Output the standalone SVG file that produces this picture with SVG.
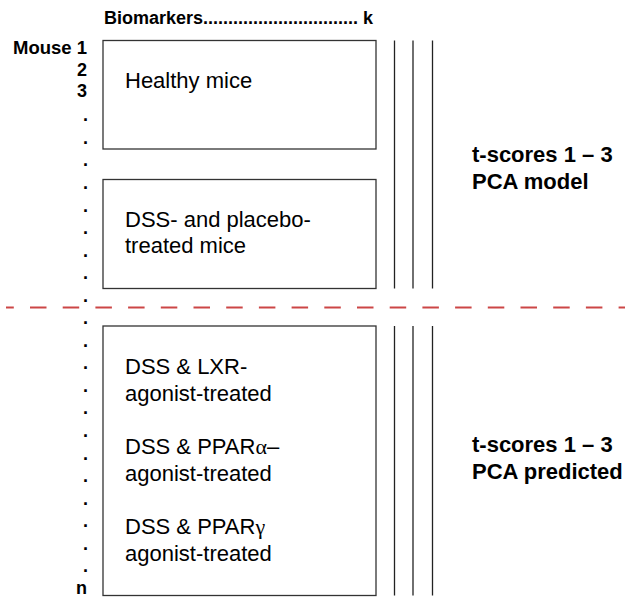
<svg xmlns="http://www.w3.org/2000/svg" width="625" height="598" viewBox="0 0 625 598">
<style>
.bx{fill:#fff;stroke:#333;stroke-width:1.3}
.vl{stroke:#222;stroke-width:1.3}
.lab{font-family:"Liberation Sans",Arial,sans-serif;font-weight:bold;font-size:18px;fill:#000}
.txt{font-family:"Liberation Sans",Arial,sans-serif;font-size:22px;fill:#000}
.big{font-family:"Liberation Sans",Arial,sans-serif;font-weight:bold;font-size:22px;fill:#000}
.gr{font-family:"Liberation Serif","Times New Roman",serif}
.dash{stroke:#cc4646;stroke-width:2;stroke-dasharray:16.5 16.2;stroke-dashoffset:8.7;fill:none}
</style>
<rect width="625" height="598" fill="#fff"/>
<g id="header">
<text class="lab" x="104" y="23.5">Biomarkers............................... k</text>
</g>
<g id="mouse-index" class="lab" text-anchor="end">
<text x="87" y="54" font-size="18.5">Mouse 1</text>
<text x="87" y="75.5">2</text>
<text x="87" y="96.5">3</text>
<text x="88" y="121.3">.</text>
<text x="88" y="143.85">.</text>
<text x="88" y="166.4">.</text>
<text x="88" y="188.95">.</text>
<text x="88" y="211.5">.</text>
<text x="88" y="234.05">.</text>
<text x="88" y="256.6">.</text>
<text x="88" y="279.15">.</text>
<text x="88" y="301.7">.</text>
<text x="88" y="324.25">.</text>
<text x="88" y="346.8">.</text>
<text x="88" y="369.35">.</text>
<text x="88" y="391.9">.</text>
<text x="88" y="414.45">.</text>
<text x="88" y="437">.</text>
<text x="88" y="459.55">.</text>
<text x="88" y="482.1">.</text>
<text x="88" y="504.65">.</text>
<text x="88" y="527.2">.</text>
<text x="88" y="549.75">.</text>
<text x="88" y="572.3">.</text>
<text x="87" y="594">n</text>
</g>
<g id="separator">
<line class="dash" x1="6" y1="307.5" x2="625" y2="307.5"/>
</g>
<g id="healthy">
<rect class="bx" x="103" y="40.5" width="273" height="108.5"/>
<text class="txt" x="125" y="88">Healthy mice</text>
</g>
<g id="dss-placebo">
<rect class="bx" x="103" y="179.5" width="273" height="109"/>
<text class="txt" x="125" y="226.5">DSS- and placebo-</text>
<text class="txt" x="125" y="253">treated mice</text>
</g>
<g id="treated">
<rect class="bx" x="103" y="326" width="273" height="269.5"/>
<text class="txt" x="125" y="374">DSS &amp; LXR-</text>
<text class="txt" x="125" y="401">agonist-treated</text>
<text class="txt" x="125" y="454">DSS &amp; PPAR<tspan class="gr">α</tspan>–</text>
<text class="txt" x="125" y="481">agonist-treated</text>
<text class="txt" x="125" y="534">DSS &amp; PPAR<tspan class="gr">γ</tspan></text>
<text class="txt" x="125" y="561">agonist-treated</text>
</g>
<g id="connectors">
<line class="vl" x1="394.5" y1="40.5" x2="394.5" y2="288.5"/>
<line class="vl" x1="413" y1="40.5" x2="413" y2="288.5"/>
<line class="vl" x1="432.5" y1="40.5" x2="432.5" y2="288.5"/>
<line class="vl" x1="394.5" y1="326" x2="394.5" y2="595.5"/>
<line class="vl" x1="413" y1="326" x2="413" y2="595.5"/>
<line class="vl" x1="432.5" y1="326" x2="432.5" y2="595.5"/>
</g>
<g id="model-label" class="big">
<text x="472" y="162">t-scores 1 – 3</text>
<text x="472" y="189">PCA model</text>
</g>
<g id="predicted-label" class="big">
<text x="472" y="452">t-scores 1 – 3</text>
<text x="472" y="479">PCA predicted</text>
</g>
</svg>
